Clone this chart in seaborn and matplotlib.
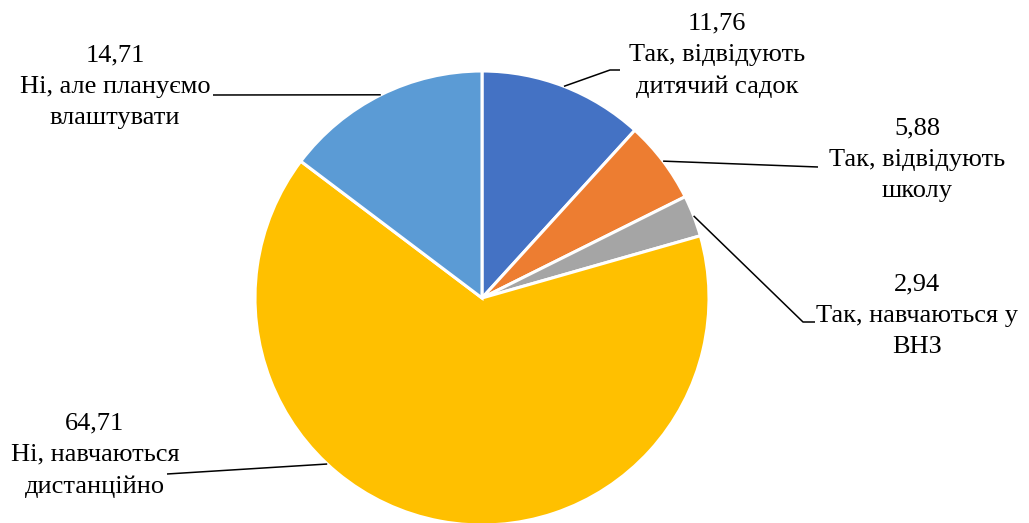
import numpy as np
import matplotlib
matplotlib.use("Agg")
import matplotlib.pyplot as plt
import seaborn as sns

categories = ["Так, відвідують\nдитячий садок", "Так, відвідують\nшколу",
              "Так, навчаються у\nВНЗ", "Ні, навчаються\nдистанційно",
              "Ні, але плануємо\nвлаштувати"]
values = [11.76, 5.88, 2.94, 64.71, 14.71]
value_labels = ["11,76", "5,88", "2,94", "64,71", "14,71"]
colors = ["#4472C4", "#ED7D31", "#A5A5A5", "#FFC000", "#5B9BD5"]

sns.set_theme(style="white")
plt.rcParams['font.family'] = ['Liberation Serif', 'DejaVu Serif']

W, H = 1029, 523
fig = plt.figure(figsize=(W / 100, H / 100), dpi=100)
ax = fig.add_axes([0, 0, 1, 1])

cx, cy_top, R = 482, 298, 227
cy = H - cy_top
wedges, _ = ax.pie(values, colors=colors, startangle=90, counterclock=False,
                   radius=R, center=(cx, cy), frame=False,
                   wedgeprops=dict(edgecolor="white", linewidth=2.2))
ax.set_xlim(0, W)
ax.set_ylim(0, H)
ax.set_aspect('equal')
ax.axis('off')

# layout: text centers (top-based pixels), elbow points, anchor angle overrides
text_pos = [(717, 55), (917, 160), (917, 316), (95, 455), (115, 87)]
elbows = [[(610, 70), (620, 70)], [(818, 167)], [(803, 322), (815, 322)],
          [(167, 474)], [(213, 95)]]
anchor_override = {3: -133.0}

total = sum(values)
cum = 0.0
for i, v in enumerate(values):
    mid = 90 - 360 * (cum + v / 2) / total
    cum += v
    ang = np.deg2rad(anchor_override.get(i, mid))
    ax0 = cx + R * np.cos(ang)
    ay0 = cy + R * np.sin(ang)
    xs = [ax0] + [p[0] for p in elbows[i]]
    ys = [ay0] + [H - p[1] for p in elbows[i]]
    ax.plot(xs, ys, color="black", lw=1.1, solid_capstyle="butt")
    tx, ty = text_pos[i]
    ax.text(tx, H - ty, value_labels[i] + "\n" + categories[i], ha="center",
            va="center", fontsize=19, linespacing=1.55, color="black")

fig.savefig("out.png", dpi=100, facecolor="white")
